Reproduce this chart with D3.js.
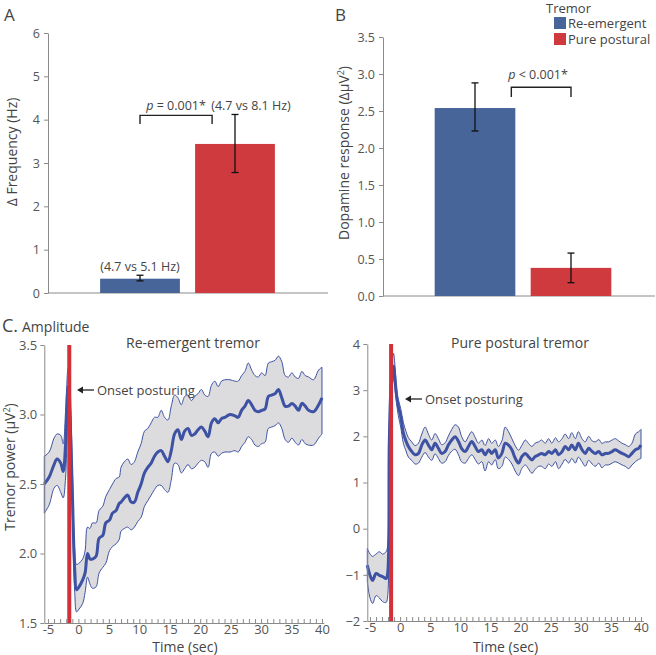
<!DOCTYPE html>
<html>
<head>
<meta charset="utf-8">
<script src="https://cdn.jsdelivr.net/npm/d3@7"></script>
<style>
  body { margin: 0; background: #fff; }
  svg { font-family: "Open Sans", sans-serif; }
</style>
</head>
<body>
<script>
// ===== data =====
const groups = ["Re-emergent", "Pure postural"];
const groupColors = ["#48659a", "#cf3a3f"];

// panel A: change in frequency (Hz)
const freqMean = [0.33, 3.44];
const freqLow = [0.28, 2.78];
const freqHigh = [0.41, 4.12];
const freqNotes = ["(4.7 vs 5.1 Hz)", "(4.7 vs 8.1 Hz)"];
const freqTicks = [0, 1, 2, 3, 4, 5, 6];

// panel B: dopamine response
const dopaMean = [2.54, 0.38];
const dopaLow = [2.23, 0.18];
const dopaHigh = [2.88, 0.58];
const dopaTicks = [0, 0.5, 1, 1.5, 2, 2.5, 3, 3.5];

// panel C left: re-emergent tremor power
const reTime = [
  -5.6, -4.8, -4.0, -3.5, -2.9, -2.5, -2.1, -1.7, -1.4, -1.0,
  -0.6, -0.3, 0.1, 0.7, 1.1, 1.5, 1.9, 2.3, 2.9, 3.4,
  4.0, 4.5, 5.1, 5.6, 6.2, 6.7, 7.0, 7.55, 8.1, 8.65,
  9.2, 9.75, 10.3, 10.85, 11.4, 11.95, 12.5, 13.05, 13.6, 14.15,
  14.7, 15.25, 15.8, 16.35, 16.9, 17.45, 18.0, 18.55, 19.1, 19.65,
  20.2, 20.75, 21.3, 21.85, 22.4, 22.95, 23.5, 24.05, 24.9, 25.7,
  26.25, 26.8, 27.35, 27.9, 28.45, 29.0, 29.55, 30.1, 30.65, 31.2,
  31.75, 32.3, 32.85, 33.4, 33.95, 34.5, 35.05, 35.6, 36.15, 36.7,
  37.25, 37.8, 38.6, 39.45, 40.0
];
const reMean = [
  2.50, 2.55, 2.64, 2.68, 2.65, 2.59, 2.79, 3.20, 3.00, 2.45,
  1.88, 1.74, 1.76, 1.81, 1.86, 2.00, 1.96, 1.96, 1.98, 2.11,
  2.13, 2.22, 2.24, 2.29, 2.31, 2.36, 2.37, 2.40, 2.42, 2.37,
  2.37, 2.44, 2.50, 2.58, 2.62, 2.65, 2.70, 2.73, 2.74, 2.70,
  2.66, 2.74, 2.86, 2.89, 2.82, 2.88, 2.90, 2.85, 2.86, 2.89,
  2.91, 2.88, 2.84, 2.94, 2.97, 2.94, 2.97, 2.98, 3.00, 2.99,
  2.98, 3.03, 3.06, 3.10, 3.07, 3.03, 3.02, 3.03, 3.04, 3.13,
  3.14, 3.15, 3.18, 3.12, 3.06, 3.06, 3.08, 3.06, 3.03, 3.08,
  3.06, 3.03, 3.02, 3.07, 3.12
];
const reUpper = [
  2.70, 2.73, 2.83, 2.86, 2.85, 2.79, 3.03, 3.33, 3.22, 2.62,
  2.02, 1.92, 1.93, 1.96, 2.02, 2.19, 2.18, 2.22, 2.22, 2.31,
  2.34, 2.41, 2.46, 2.50, 2.54, 2.55, 2.62, 2.66, 2.68, 2.64,
  2.66, 2.73, 2.79, 2.88, 2.90, 2.94, 2.98, 2.98, 3.03, 2.98,
  2.96, 3.06, 3.14, 3.12, 3.07, 3.13, 3.14, 3.10, 3.13, 3.15,
  3.18, 3.14, 3.13, 3.21, 3.24, 3.20, 3.24, 3.25, 3.25, 3.24,
  3.24, 3.28, 3.31, 3.37, 3.32, 3.28, 3.27, 3.30, 3.28, 3.37,
  3.38, 3.39, 3.42, 3.38, 3.28, 3.27, 3.30, 3.27, 3.26, 3.31,
  3.28, 3.27, 3.25, 3.32, 3.34
];
const reLower = [
  2.29, 2.35, 2.47, 2.49, 2.44, 2.40, 2.55, 3.08, 2.85, 2.28,
  1.72, 1.58, 1.60, 1.64, 1.72, 1.83, 1.78, 1.75, 1.76, 1.86,
  1.90, 1.93, 2.02, 2.05, 2.07, 2.10, 2.16, 2.18, 2.19, 2.17,
  2.19, 2.23, 2.26, 2.34, 2.38, 2.42, 2.46, 2.49, 2.49, 2.46,
  2.44, 2.53, 2.65, 2.64, 2.58, 2.61, 2.64, 2.61, 2.62, 2.65,
  2.67, 2.66, 2.62, 2.72, 2.73, 2.70, 2.72, 2.73, 2.73, 2.74,
  2.73, 2.77, 2.80, 2.84, 2.82, 2.78, 2.77, 2.79, 2.80, 2.90,
  2.91, 2.92, 2.94, 2.90, 2.82, 2.80, 2.83, 2.80, 2.78, 2.82,
  2.79, 2.78, 2.78, 2.83, 2.86
];
const reTicks = [1.5, 2.0, 2.5, 3.0, 3.5];

// panel C right: pure postural tremor power
const ppTime = [
  -5.45, -5.0, -4.56, -4.0, -3.45, -2.9, -2.34, -2.1, -1.8, -1.5,
  -1.1, -0.84, -0.57, -0.3, 0.1, 0.54, 0.99, 1.37, 1.93, 2.48,
  3.04, 3.6, 4.15, 4.7, 5.25, 5.8, 6.36, 6.9, 7.47, 8.0,
  8.58, 9.13, 9.69, 10.2, 10.8, 11.35, 11.9, 12.46, 13.0, 13.57,
  14.1, 14.7, 15.2, 15.8, 16.3, 16.9, 17.45, 18.0, 18.56, 19.1,
  19.67, 20.2, 20.8, 21.3, 21.9, 22.4, 23.0, 23.5, 24.1, 24.65,
  25.2, 25.8, 26.3, 26.9, 27.4, 28.0, 28.5, 29.1, 29.6, 30.2,
  30.75, 31.3, 31.9, 32.4, 33.0, 33.5, 34.1, 34.6, 35.2, 35.7,
  36.3, 36.85, 37.4, 37.96, 38.5, 39.07, 39.6, 40.0
];
const ppMean = [
  -0.79, -1.01, -1.12, -0.97, -1.01, -1.04, -1.08, -1.00, 1.85, 3.08,
  3.52, 3.23, 2.86, 2.65, 2.43, 2.07, 1.89, 1.78, 1.67, 1.60,
  1.63, 1.81, 1.92, 1.81, 1.71, 1.85, 1.74, 1.63, 1.67, 1.81,
  1.92, 1.99, 1.89, 1.74, 1.67, 1.78, 1.89, 1.78, 1.67, 1.71,
  1.60, 1.71, 1.63, 1.71, 1.53, 1.63, 1.85, 1.81, 1.71, 1.53,
  1.42, 1.56, 1.63, 1.56, 1.49, 1.56, 1.60, 1.63, 1.60, 1.67,
  1.63, 1.71, 1.60, 1.67, 1.78, 1.71, 1.81, 1.71, 1.85, 1.71,
  1.63, 1.74, 1.67, 1.63, 1.67, 1.60, 1.63, 1.63, 1.67, 1.71,
  1.67, 1.63, 1.60, 1.56, 1.63, 1.71, 1.74, 1.81
];
const ppUpper = [
  -0.43, -0.55, -0.60, -0.55, -0.50, -0.55, -0.50, -0.40, 2.20, 3.40,
  3.80, 3.50, 3.00, 2.80, 2.60, 2.30, 2.10, 1.97, 1.88, 1.80,
  1.85, 2.05, 2.20, 2.05, 1.92, 2.06, 1.95, 1.82, 1.86, 2.00,
  2.15, 2.25, 2.20, 2.00, 1.88, 2.00, 2.10, 1.98, 1.85, 1.92,
  1.80, 1.95, 1.85, 1.92, 1.78, 1.90, 2.20, 2.10, 1.95, 1.80,
  1.70, 1.80, 1.92, 1.85, 1.78, 1.85, 1.88, 1.92, 1.85, 1.95,
  1.85, 1.97, 1.88, 1.95, 2.05, 1.95, 2.08, 1.95, 2.10, 1.95,
  1.88, 2.00, 1.90, 1.88, 1.93, 1.85, 1.88, 1.88, 1.92, 1.95,
  1.90, 1.85, 1.82, 1.78, 1.85, 2.05, 2.10, 2.15
];
const ppLower = [
  -1.15, -1.50, -1.62, -1.45, -1.50, -1.58, -1.60, -1.50, 1.50, 2.80,
  3.25, 3.00, 2.70, 2.45, 2.20, 1.85, 1.68, 1.55, 1.48, 1.40,
  1.42, 1.55, 1.65, 1.55, 1.48, 1.62, 1.52, 1.42, 1.45, 1.58,
  1.68, 1.72, 1.60, 1.45, 1.42, 1.52, 1.60, 1.50, 1.40, 1.45,
  1.25, 1.45, 1.38, 1.50, 1.30, 1.35, 1.55, 1.50, 1.40, 1.25,
  1.15, 1.30, 1.38, 1.30, 1.20, 1.28, 1.35, 1.35, 1.30, 1.40,
  1.35, 1.45, 1.30, 1.40, 1.50, 1.42, 1.52, 1.42, 1.55, 1.45,
  1.35, 1.48, 1.40, 1.35, 1.42, 1.32, 1.38, 1.38, 1.42, 1.45,
  1.42, 1.38, 1.35, 1.30, 1.38, 1.45, 1.50, 1.52
];
const ppTicks = [-2, -1, 0, 1, 2, 3, 4];

const onsetTime = -1.5;
const timeTicks = d3.range(-5, 41);

// ===== drawing =====
const TEXT = "#444";
const AXIS = "#8a8a8a";

const svg = d3.select("body").append("svg")
    .attr("width", 656)
    .attr("height", 655);

function styleAxis(sel, fontSize) {
    sel.selectAll("path").attr("stroke", AXIS);
    sel.selectAll("line").attr("stroke", AXIS);
    sel.selectAll("text")
        .attr("fill", "#555")
        .style("font-size", fontSize + "px")
        .style("font-family", "'Open Sans', sans-serif");
}

function yTitle(x, y, label) {
    svg.append("text")
        .attr("transform", `translate(${x},${y}) rotate(-90)`)
        .attr("text-anchor", "middle")
        .attr("fill", TEXT)
        .style("font-size", "14px")
        .text(label);
}

function bracket(x1, x2, yTop, yLeg) {
    svg.append("path")
        .attr("d", `M${x1},${yLeg}V${yTop}H${x2}V${yLeg}`)
        .attr("fill", "none")
        .attr("stroke", "#222")
        .attr("stroke-width", 1.4);
}

function pText(x, y, rest) {
    const t = svg.append("text")
        .attr("x", x).attr("y", y)
        .attr("text-anchor", "middle")
        .attr("fill", TEXT)
        .style("font-size", "12.5px");
    t.append("tspan").style("font-style", "italic").text("p");
    t.append("tspan").text(rest);
}

function barPanel(opt) {
    const x = d3.scaleBand().domain(groups).range(opt.xRange)
        .paddingInner(0.16).paddingOuter(0.08);
    const y = d3.scaleLinear().domain(opt.yDomain).range(opt.yRange);

    const yAxis = svg.append("g")
        .attr("transform", `translate(${opt.axisX},0)`)
        .call(d3.axisLeft(y).tickValues(opt.ticks).tickFormat(opt.fmt)
            .tickSizeInner(4).tickSizeOuter(0).tickPadding(4));
    styleAxis(yAxis, 12.5);

    svg.append("line")
        .attr("x1", opt.axisX).attr("x2", opt.axisEnd)
        .attr("y1", y(0)).attr("y2", y(0))
        .attr("stroke", AXIS);

    svg.append("g").selectAll("rect")
        .data(groups)
        .join("rect")
        .attr("x", d => x(d))
        .attr("width", x.bandwidth())
        .attr("y", (d, i) => y(opt.mean[i]))
        .attr("height", (d, i) => y(0) - y(opt.mean[i]))
        .attr("fill", (d, i) => groupColors[i]);

    const err = svg.append("g")
        .attr("stroke", "#111")
        .attr("stroke-width", 1.3);
    groups.forEach((g, i) => {
        const cx = x(g) + x.bandwidth() / 2;
        err.append("line").attr("x1", cx).attr("x2", cx)
            .attr("y1", y(opt.low[i])).attr("y2", y(opt.high[i]));
        [opt.low[i], opt.high[i]].forEach(v => {
            err.append("line").attr("x1", cx - 3.5).attr("x2", cx + 3.5)
                .attr("y1", y(v)).attr("y2", y(v));
        });
    });
    return { x, y };
}

// ---- panel A ----
const A = barPanel({
    xRange: [92.5, 282.5], yDomain: [0, 6], yRange: [293, 33],
    axisX: 48, axisEnd: 328, ticks: freqTicks, fmt: d3.format("d"),
    mean: freqMean, low: freqLow, high: freqHigh
});
svg.append("text").attr("x", 4).attr("y", 21).attr("fill", TEXT)
    .style("font-size", "17px").text("A");
yTitle(17, 152, "\u0394 Frequency (Hz)");

const aBlueC = A.x(groups[0]) + A.x.bandwidth() / 2;
const aRedC = A.x(groups[1]) + A.x.bandwidth() / 2;
svg.append("text").attr("x", aBlueC).attr("y", A.y(0.5))
    .attr("text-anchor", "middle").attr("fill", TEXT)
    .style("font-size", "12.5px").text(freqNotes[0]);
svg.append("text").attr("x", aRedC + 16).attr("y", A.y(4.22))
    .attr("text-anchor", "middle").attr("fill", TEXT)
    .style("font-size", "12.5px").text(freqNotes[1]);
bracket(aBlueC, A.x(groups[1]) + 17, A.y(4.1), A.y(3.9));
pText(176, A.y(4.22), " = 0.001*");

// ---- panel B ----
const B = barPanel({
    xRange: [427, 619], yDomain: [0, 3.5], yRange: [296, 37],
    axisX: 383, axisEnd: 655, ticks: dopaTicks, fmt: d3.format(".1f"),
    mean: dopaMean, low: dopaLow, high: dopaHigh
});
svg.append("text").attr("x", 335).attr("y", 21).attr("fill", TEXT)
    .style("font-size", "17px").text("B");
const dt = svg.append("text")
    .attr("transform", "translate(349,153) rotate(-90)")
    .attr("text-anchor", "middle").attr("fill", TEXT)
    .style("font-size", "14px");
dt.append("tspan").text("Dopamine response (\u0394\u03bcV");
dt.append("tspan").attr("dy", -5).style("font-size", "9px").text("2");
dt.append("tspan").attr("dy", 5).text(")");

const bRedC = B.x(groups[1]) + B.x.bandwidth() / 2;
bracket(B.x(groups[0]) + B.x.bandwidth() - 4, bRedC, B.y(2.82), B.y(2.69));
pText(538, B.y(2.93), " < 0.001*");

// legend
const legend = svg.append("g").attr("fill", TEXT).style("font-size", "13px");
legend.append("text").attr("x", 546).attr("y", 13).text("Tremor");
groups.forEach((g, i) => {
    legend.append("rect")
        .attr("x", 554).attr("y", 17 + i * 16)
        .attr("width", 12).attr("height", 12)
        .attr("fill", groupColors[i]);
    legend.append("text").attr("x", 568).attr("y", 28 + i * 16).text(g);
});

// ---- panel C ----
svg.append("text").attr("x", 2).attr("y", 332).attr("fill", TEXT)
    .style("font-size", "18px").text("C.");
svg.append("text").attr("x", 22).attr("y", 332).attr("fill", TEXT)
    .style("font-size", "14px").text("Amplitude");

function tracePanel(opt) {
    const x = d3.scaleLinear().domain(opt.xDomain).range(opt.xRange);
    const y = d3.scaleLinear().domain(opt.yDomain).range(opt.yRange);
    const data = opt.time.map((t, i) => ({
        t, m: opt.mean[i], hi: opt.upper[i], lo: opt.lower[i]
    }));

    const area = d3.area()
        .x(d => x(d.t)).y0(d => y(d.lo)).y1(d => y(d.hi))
        .curve(d3.curveCatmullRom);
    svg.append("path").datum(data)
        .attr("d", area)
        .attr("fill", "#dcdcdf")
        .attr("stroke", "#3e52a3")
        .attr("stroke-width", 1);

    const line = d3.line()
        .x(d => x(d.t)).y(d => y(d.m))
        .curve(d3.curveCatmullRom);
    svg.append("path").datum(data)
        .attr("d", line)
        .attr("fill", "none")
        .attr("stroke", "#3e52a3")
        .attr("stroke-width", 3);

    svg.append("line")
        .attr("x1", x(onsetTime)).attr("x2", x(onsetTime))
        .attr("y1", opt.yRange[1]).attr("y2", opt.yRange[0])
        .attr("stroke", "#d3303a").attr("stroke-width", 4);

    const xAxis = svg.append("g")
        .attr("transform", `translate(0,${opt.yRange[0]})`)
        .call(d3.axisBottom(x).tickValues(timeTicks)
            .tickFormat(d => d % 5 === 0 ? d : "")
            .tickSizeInner(-4).tickSizeOuter(0).tickPadding(2));
    styleAxis(xAxis, 13);

    const yAxis = svg.append("g")
        .attr("transform", `translate(${opt.xRange[0]},0)`)
        .call(d3.axisLeft(y).tickValues(opt.ticks).tickFormat(opt.fmt)
            .tickSizeInner(4).tickSizeOuter(0).tickPadding(3));
    styleAxis(yAxis, 13);

    svg.append("text")
        .attr("x", opt.titleX).attr("y", 348)
        .attr("text-anchor", "middle").attr("fill", TEXT)
        .style("font-size", "14px").text(opt.title);

    svg.append("text")
        .attr("x", (x(-5) + x(40)) / 2).attr("y", 652)
        .attr("text-anchor", "middle").attr("fill", TEXT)
        .style("font-size", "14px").text("Time (sec)");

    // onset annotation
    const ay = opt.arrowY;
    svg.append("line")
        .attr("x1", opt.arrowX + 3).attr("x2", opt.arrowX + 17)
        .attr("y1", ay).attr("y2", ay)
        .attr("stroke", "#222").attr("stroke-width", 1.3);
    svg.append("path")
        .attr("d", `M${opt.arrowX},${ay}l6,-3.5v7z`)
        .attr("fill", "#222");
    svg.append("text")
        .attr("x", opt.arrowX + 20).attr("y", ay + 5)
        .attr("fill", TEXT).style("font-size", "13px")
        .text("Onset posturing");
    return { x, y };
}

tracePanel({
    xDomain: [-5.6, 40.3], xRange: [44.3, 323.8],
    yDomain: [1.5, 3.5], yRange: [623, 345],
    time: reTime, mean: reMean, upper: reUpper, lower: reLower,
    ticks: reTicks, fmt: d3.format(".1f"),
    title: "Re-emergent tremor", titleX: 193,
    arrowX: 77, arrowY: 390
});

tracePanel({
    xDomain: [-5.45, 40.4], xRange: [367.3, 643.4],
    yDomain: [-2, 4], yRange: [621, 344],
    time: ppTime, mean: ppMean, upper: ppUpper, lower: ppLower,
    ticks: ppTicks, fmt: d3.format("d"),
    title: "Pure postural tremor", titleX: 520,
    arrowX: 405, arrowY: 399
});

// y title for C
const ct = svg.append("text")
    .attr("transform", "translate(15,467) rotate(-90)")
    .attr("text-anchor", "middle").attr("fill", TEXT)
    .style("font-size", "14px");
ct.append("tspan").text("Tremor power (\u03bcV");
ct.append("tspan").attr("dy", -5).style("font-size", "9px").text("2");
ct.append("tspan").attr("dy", 5).text(")");
</script>
</body>
</html>
